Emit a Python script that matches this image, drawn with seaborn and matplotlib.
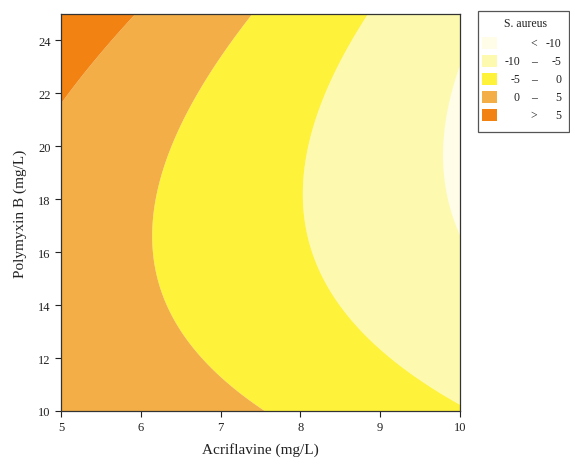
import numpy as np
import matplotlib
matplotlib.use("Agg")
import matplotlib.pyplot as plt
from matplotlib.patches import Rectangle
import seaborn as sns

# Response-surface model (quadratic)
# z = b0 + b1*x + b2*y + b11*x^2 + b22*y^2 + b12*x*y
coef_names = ["b0", "b1", "b2", "b11", "b22", "b12"]
coef_values = [21.617, -0.7158, -1.3963, -0.011084, 0.060887, -0.10201]

x_range = [5, 10]
y_range = [10, 25]
levels = [-100, -10, -5, 0, 5, 100]
level_colors = ["#FFFDE8", "#FDFAB0", "#FFF23A", "#F3AE48", "#F28312"]
legend_rows = [("", "<", "-10"), ("-10", "–", "-5"), ("-5", "–", "0"),
               ("0", "–", "5"), ("", ">", "5")]
x_ticks = [5, 6, 7, 8, 9, 10]
y_ticks = [10, 12, 14, 16, 18, 20, 22, 24]
x_label = "Acriflavine (mg/L)"
y_label = "Polymyxin B (mg/L)"
legend_title = "S. aureus"

sns.set_theme(style="white")
plt.rcParams["font.family"] = ["Liberation Serif", "DejaVu Serif"]

fig = plt.figure(figsize=(5.7, 4.6), dpi=100)
ax = fig.add_axes([61 / 570, 1 - 412 / 460, 399 / 570, 397 / 460])

xs = np.linspace(x_range[0], x_range[1], 400)
ys = np.linspace(y_range[0], y_range[1], 400)
X, Y = np.meshgrid(xs, ys)
b0, b1, b2, b11, b22, b12 = coef_values
Z = b0 + b1 * X + b2 * Y + b11 * X ** 2 + b22 * Y ** 2 + b12 * X * Y

ax.contourf(X, Y, Z, levels=levels, colors=level_colors, antialiased=True)
ax.set_xlim(*x_range)
ax.set_ylim(*y_range)
ax.set_xticks(x_ticks)
ax.set_yticks(y_ticks)
ax.tick_params(axis="both", which="both", direction="out", length=4, width=0.8,
               colors="#222222", labelsize=9, left=True, bottom=True)
ax.set_xlabel(x_label, fontsize=11, color="#222222", labelpad=6)
ax.set_ylabel(y_label, fontsize=11, color="#222222", labelpad=8)
for s in ax.spines.values():
    s.set_color("#333333")
    s.set_linewidth(0.9)

# Legend box
W, H = 570, 460
def fx(px):
    return px / W
def fy(py):
    return 1 - py / H

fig.patches.append(Rectangle((fx(478), fy(133)), fx(91), 121 / H, transform=fig.transFigure,
                             fill=False, edgecolor="#555555", linewidth=0.9))
fig.text(fx(525), fy(24), legend_title, fontsize=8.5, ha="center", va="center", color="#222222")
row_y = [44, 62, 80, 98, 116]
for (lo, mid, hi), col, ry in zip(legend_rows, level_colors, row_y):
    fig.patches.append(Rectangle((fx(482), fy(ry + 6)), fx(15), 12 / H, transform=fig.transFigure,
                                 facecolor=col, edgecolor="none"))
    fig.text(fx(520), fy(ry), lo, fontsize=8.5, ha="right", va="center", color="#222222")
    fig.text(fx(534), fy(ry), mid, fontsize=8.5, ha="center", va="center", color="#222222")
    fig.text(fx(561), fy(ry), hi, fontsize=8.5, ha="right", va="center", color="#222222")

fig.savefig("out.png", dpi=100)
